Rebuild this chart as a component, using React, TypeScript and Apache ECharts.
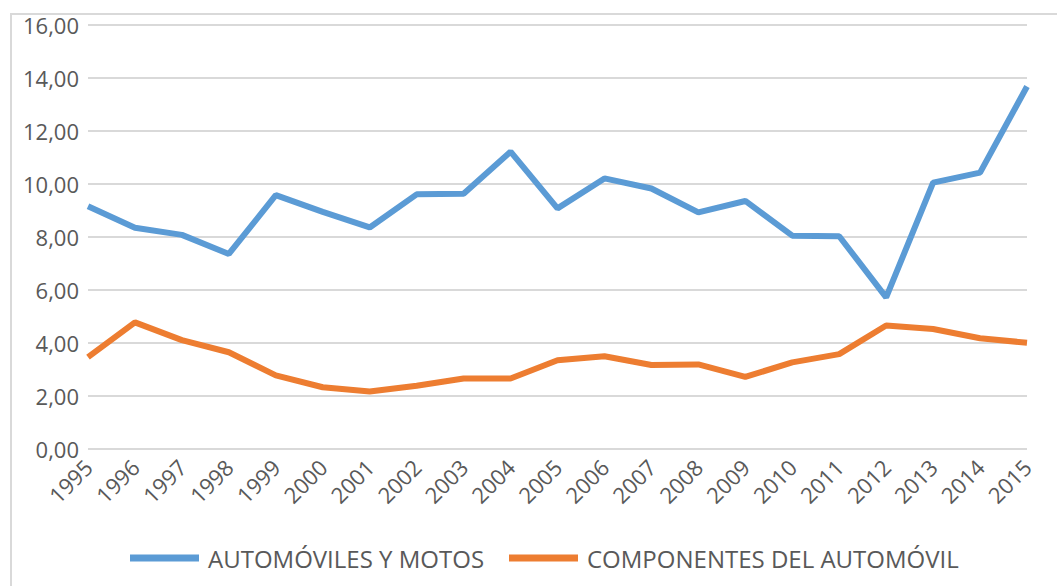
import React, { useEffect, useRef } from "react";
import * as echarts from "echarts";

const years = [
  "1995", "1996", "1997", "1998", "1999", "2000", "2001", "2002", "2003", "2004",
  "2005", "2006", "2007", "2008", "2009", "2010", "2011", "2012", "2013", "2014", "2015",
];
const automoviles = [
  9.16, 8.35, 8.08, 7.36, 9.58, 8.95, 8.36, 9.61, 9.63, 11.22,
  9.08, 10.21, 9.83, 8.93, 9.36, 8.05, 8.03, 5.72, 10.05, 10.43, 13.68,
];
const componentes = [
  3.47, 4.78, 4.11, 3.65, 2.78, 2.33, 2.17, 2.39, 2.66, 2.66,
  3.35, 3.5, 3.17, 3.19, 2.72, 3.27, 3.58, 4.66, 4.53, 4.18, 4.01,
];
const seriesNames = ["AUTOMÓVILES Y MOTOS", "COMPONENTES DEL AUTOMÓVIL"];
const colors = ["#5b9bd5", "#ed7d31"];

export default function App() {
  const ref = useRef<HTMLDivElement>(null);
  useEffect(() => {
    document.body.style.margin = "0";
    const chart = echarts.init(ref.current!, null, { renderer: "svg" });
    const font = "'Open Sans', sans-serif";
    const legendText = { color: "#595959", fontFamily: font, fontSize: 24, padding: [0, 0, 0, 4] };
    chart.setOption({
      animation: false,
      backgroundColor: "#ffffff",
      graphic: [
        {
          type: "rect",
          shape: { x: 11, y: 14, width: 1100, height: 640 },
          style: { fill: "none", stroke: "#d9d9d9", lineWidth: 2 },
          silent: true,
          z: -1,
        },
      ],
      grid: { left: 88, right: 30, top: 25, bottom: 137, containLabel: false },
      xAxis: {
        type: "category",
        data: years,
        boundaryGap: false,
        axisLine: { show: false },
        axisTick: { show: false },
        axisLabel: {
          rotate: 45,
          interval: 0,
          margin: 14,
          color: "#595959",
          fontFamily: font,
          fontSize: 22,
        },
      },
      yAxis: {
        type: "value",
        min: 0,
        max: 16,
        interval: 2,
        axisLine: { show: false },
        axisTick: { show: false },
        splitLine: { lineStyle: { color: "#d9d9d9", width: 2 } },
        axisLabel: {
          margin: 9,
          color: "#595959",
          fontFamily: font,
          fontSize: 22,
          formatter: (v: number) => v.toFixed(2).replace(".", ","),
        },
      },
      legend: [
        {
          data: [seriesNames[0]],
          left: 125,
          top: 541,
          icon: "rect",
          itemWidth: 69,
          itemHeight: 7,
          textStyle: legendText,
        },
        {
          data: [seriesNames[1]],
          left: 504,
          top: 541,
          icon: "rect",
          itemWidth: 69,
          itemHeight: 7,
          textStyle: legendText,
        },
      ],
      series: [
        {
          name: seriesNames[0],
          type: "line",
          data: automoviles,
          showSymbol: false,
          symbol: "none",
          color: colors[0],
          lineStyle: { width: 6, color: colors[0] },
        },
        {
          name: seriesNames[1],
          type: "line",
          data: componentes,
          showSymbol: false,
          symbol: "none",
          color: colors[1],
          lineStyle: { width: 6, color: colors[1] },
        },
      ],
    });
    return () => chart.dispose();
  }, []);
  return <div ref={ref} style={{ width: 1057, height: 586 }} />;
}
